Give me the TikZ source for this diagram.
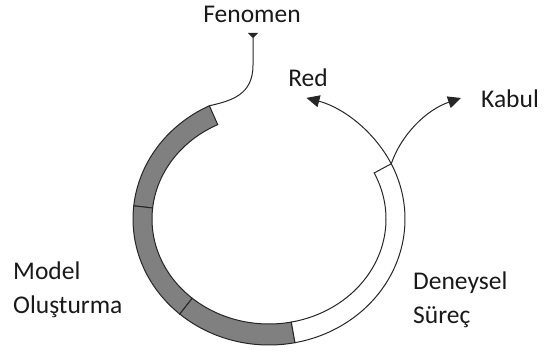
\documentclass[tikz,border=0pt]{standalone}
\usepackage{fontspec}
\setmainfont{Carlito}
\usepackage{tikz}
\usetikzlibrary{arrows.meta, positioning, calc}

\begin{document}
\begin{tikzpicture}[x=1pt, y=1pt,
  band/.style={draw=black!85, line width=1pt},
  link/.style={draw=black!85, line width=1pt},
  lbl/.style={font=\fontsize{25.5}{34}\selectfont, text=black!90, inner sep=0pt, align=left}]
  \useasboundingbox (0,0) rectangle (554,356);
  \coordinate (c) at (269,137);
  % ring segments
  \foreach \a/\b/\col in {116/174/black!50, 174/229/black!50, 229/281/black!50, 281/386/white} {
    \draw[band, fill=\col] ($(c)+(\a:136 and 126)$) arc[start angle=\a, end angle=\b, x radius=136, y radius=126]
      -- ($(c)+(\b:117 and 105)$) arc[start angle=\b, end angle=\a, x radius=117, y radius=105] -- cycle;
  }
  \coordinate (gtop) at ($(c)+(116:136 and 126)$);
  \coordinate (split) at ($(c)+(26:136 and 126)$);
  \coordinate (fentip) at (253,323);
  \coordinate (kabtip) at (461,258);
  % Fenomen line
  \draw[link, {Triangle[reversed, length=5pt, width=10pt]}-] (fentip) -- ++(0,-32)
    .. controls +(0,-30) and +(22,5) .. (gtop);
  % Red and Kabul
  \draw[link, -{Triangle[length=13pt, width=12pt]}] (split)
    arc[start angle=26, end angle=74, x radius=136, y radius=126];
  \draw[link, -{Triangle[length=13pt, width=12pt]}] (split) .. controls +(10,29) and +(-35,-12) .. (kabtip);
  % labels
  \node[lbl] (fenomen) at (252,342) {Fenomen};
  \node[lbl] (red) at (308,278) {Red};
  \node[lbl] (kabul) at (510,257) {Kabul};
  \node[lbl, anchor=west] (model) at (13,66) {Model\\Oluşturma};
  \node[lbl, anchor=west] (deney) at (413,56) {Deneysel\\Süreç};
\end{tikzpicture}
\end{document}
